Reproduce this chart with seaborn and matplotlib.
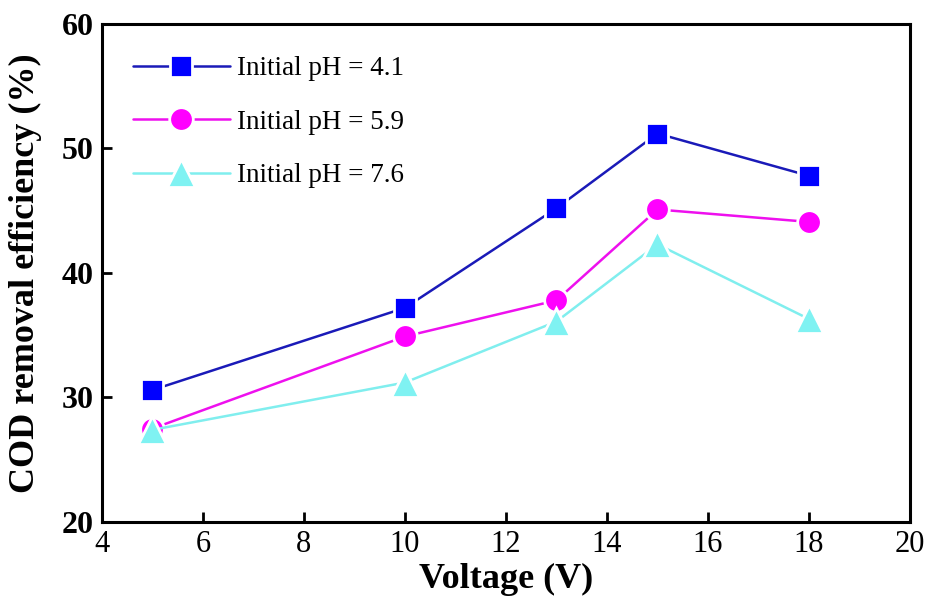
import matplotlib
matplotlib.use("Agg")
import matplotlib.pyplot as plt
import seaborn as sns
import pandas as pd

# Applied voltage (V)
voltage = [5, 10, 13, 15, 18]

# COD removal efficiency (%) for each initial pH
cod_ph41 = [30.6, 37.2, 45.2, 51.2, 47.8]
cod_ph59 = [27.5, 34.9, 37.8, 45.1, 44.1]
cod_ph76 = [27.4, 31.2, 36.1, 42.3, 36.3]

labels = ["Initial pH = 4.1", "Initial pH = 5.9", "Initial pH = 7.6"]
x_ticks = [4, 6, 8, 10, 12, 14, 16, 18, 20]
y_ticks = [20, 30, 40, 50, 60]

sns.set_theme(style="white")
plt.rcParams["font.family"] = ["Liberation Serif", "DejaVu Serif"]
plt.rcParams["text.color"] = "black"
plt.rcParams["axes.labelcolor"] = "black"
plt.rcParams["xtick.color"] = "black"
plt.rcParams["ytick.color"] = "black"

fig = plt.figure(figsize=(9.32, 5.99), dpi=100)
ax = fig.add_axes([0.1094, 0.1286, 0.8670, 0.8314])

series = [
    (cod_ph41, labels[0], "s", 16, "#0000ff", "#1a1ab8"),
    (cod_ph59, labels[1], "o", 17, "#ff00ff", "#ee10ee"),
    (cod_ph76, labels[2], "^", 20, "#7ff2f2", "#80eeee"),
]

for values, lab, mk, ms, mcol, lcol in series:
    df = pd.DataFrame({"Voltage": voltage, "COD": values})
    sns.lineplot(
        data=df, x="Voltage", y="COD", ax=ax, label=lab,
        color=lcol, linewidth=1.8, marker=mk, markersize=ms,
        markerfacecolor=mcol, markeredgecolor="white", markeredgewidth=2.0,
    )

ax.set_xlim(4, 20)
ax.set_ylim(20, 60)
ax.set_xticks(x_ticks)
ax.set_yticks(y_ticks)
ax.set_xticklabels([str(t) for t in x_ticks], fontsize=22, color="black")
ax.set_yticklabels([str(t) for t in y_ticks], fontsize=23, fontweight="bold", color="black")

ax.tick_params(axis="both", which="major", direction="in", length=7, width=2,
               color="black", pad=6, bottom=True, left=True, top=False, right=False)

for sp in ax.spines.values():
    sp.set_visible(True)
    sp.set_color("black")
    sp.set_linewidth(2.2)

ax.set_xlabel("Voltage (V)", fontsize=26, fontweight="bold", labelpad=3, color="black")
ax.set_ylabel("COD removal efficiency (%)", fontsize=26, fontweight="bold", labelpad=14, color="black")
ax.grid(False)

leg = ax.legend(
    loc="upper left", bbox_to_anchor=(0.038, 0.935), frameon=False,
    fontsize=19.5, numpoints=1, handlelength=3.6, handletextpad=0.25,
    labelspacing=1.05, borderpad=0, borderaxespad=0, labelcolor="black",
)

fig.savefig("out.png", dpi=100)
